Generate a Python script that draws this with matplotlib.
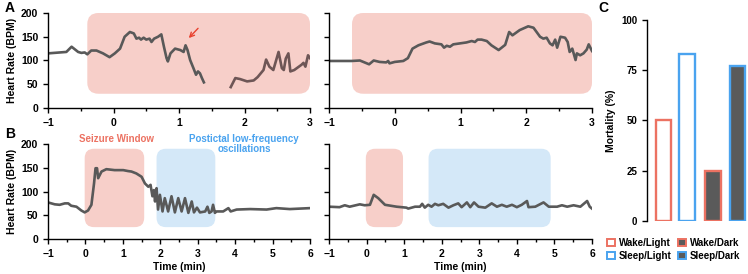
import matplotlib
matplotlib.use("Agg")
import matplotlib.pyplot as plt
from matplotlib.patches import FancyBboxPatch, Patch

plt.rcParams['font.family'] = ['Liberation Sans', 'DejaVu Sans']
plt.rcParams['font.weight'] = 'bold'

# ---------------- data ----------------
a1_t1 = [-1, -0.72, -0.64, -0.54, -0.49, -0.44, -0.4, -0.34, -0.26, -0.16, -0.06, 0.02, 0.10, 0.17, 0.25,
         0.31, 0.35, 0.39, 0.42, 0.46, 0.5, 0.55, 0.58, 0.62, 0.68, 0.73, 0.77, 0.81, 0.83, 0.87, 0.94,
         1.02, 1.07, 1.1, 1.13, 1.17, 1.22, 1.26, 1.29, 1.32, 1.35, 1.38]
a1_v1 = [115, 118, 129, 118, 116, 117, 113, 121, 121, 115, 107, 115, 125, 150, 160,
         157, 146, 148, 144, 148, 144, 146, 139, 146, 150, 155, 129, 105, 98, 115, 125,
         122, 118, 132, 122, 101, 84, 70, 77, 73, 63, 54]
a1_t2 = [1.79, 1.86, 1.93, 2.04, 2.14, 2.2, 2.29, 2.33, 2.38, 2.44, 2.52, 2.57, 2.6, 2.63, 2.67, 2.7,
         2.76, 2.83, 2.87, 2.9, 2.93, 2.97, 3.0]
a1_v2 = [44, 63, 61, 56, 58, 65, 80, 102, 87, 80, 118, 84, 80, 104, 115, 77,
         80, 87, 91, 95, 87, 111, 105]

a2_t = [-1, -0.66, -0.53, -0.46, -0.39, -0.32, -0.23, -0.13, -0.1, -0.08, 0, 0.13, 0.2, 0.27, 0.36,
        0.48, 0.53, 0.61, 0.71, 0.75, 0.79, 0.84, 0.89, 0.99, 1.09, 1.17, 1.22, 1.26, 1.32, 1.4,
        1.47, 1.58, 1.68, 1.74, 1.79, 1.9, 2.03, 2.11, 2.21, 2.26, 2.31, 2.36, 2.4, 2.44, 2.47,
        2.52, 2.59, 2.63, 2.66, 2.7, 2.75, 2.77, 2.82, 2.87, 2.92, 2.95, 3.0]
a2_v = [99, 99, 100, 96, 92, 100, 97, 96, 99, 94, 97, 99, 105, 125, 132,
        138, 140, 136, 134, 127, 131, 129, 134, 136, 138, 141, 139, 144, 144, 141,
        132, 122, 133, 160, 153, 164, 172, 169, 150, 146, 148, 136, 132, 144, 127,
        150, 148, 139, 118, 125, 101, 115, 111, 115, 123, 134, 120]

b1_t = [-1, -0.82, -0.69, -0.55, -0.46, -0.38, -0.24, -0.11, -0.02, 0.07, 0.16, 0.23, 0.27, 0.31, 0.34,
        0.43, 0.56, 0.78, 1.01, 1.14, 1.23, 1.36, 1.5, 1.59, 1.68, 1.74, 1.79, 1.83, 1.86, 1.9,
        1.94, 1.99, 2.06, 2.12, 2.21, 2.3, 2.39, 2.48, 2.57, 2.66, 2.75, 2.84, 2.9, 2.98, 3.06,
        3.2, 3.26, 3.31, 3.37, 3.41, 3.46, 3.5, 3.57, 3.68, 3.82, 3.88, 4.04, 4.4, 4.84, 5.1,
        5.46, 6.0]
b1_v = [77, 73, 72, 75, 75, 70, 68, 60, 56, 60, 72, 117, 149, 149, 128,
        142, 147, 145, 145, 143, 142, 138, 131, 117, 110, 114, 90, 103, 79, 107,
        62, 93, 58, 86, 58, 90, 56, 86, 58, 86, 55, 79, 56, 66, 56,
        58, 68, 55, 58, 72, 55, 58, 58, 58, 65, 58, 62, 63, 62, 65,
        63, 65]

b2_t = [-1, -0.72, -0.58, -0.45, -0.18, -0.05, 0.09, 0.19, 0.31, 0.49, 0.8, 1.06, 1.11, 1.29, 1.42,
        1.48, 1.55, 1.64, 1.73, 1.82, 1.91, 2.04, 2.18, 2.31, 2.44, 2.53, 2.67, 2.76, 2.86, 2.98,
        3.16, 3.33, 3.47, 3.6, 3.73, 3.87, 4.0, 4.13, 4.27, 4.31, 4.49, 4.71, 4.85, 5.07, 5.2,
        5.34, 5.51, 5.69, 5.87, 5.94, 6.0]
b2_v = [68, 67, 71, 68, 73, 71, 72, 93, 86, 72, 68, 66, 64, 68, 68,
        74, 66, 72, 68, 74, 71, 74, 66, 71, 75, 67, 77, 67, 77, 68,
        66, 75, 68, 72, 68, 72, 67, 72, 80, 67, 68, 77, 68, 68, 71,
        68, 71, 68, 80, 68, 64]

c_labels = ['Wake/Light', 'Sleep/Light', 'Wake/Dark', 'Sleep/Dark']
c_values = [50, 83.3, 25, 76.9]

# ---------------- styles ----------------
LINE = '#595959'
LINE2 = '#6e5656'
PINK = '#f7cfc9'
BLUE = '#d4e8f8'
SALMON = '#ec7262'
SKY = '#4aa3ef'
DARK = '#5a5a5a'

W, H = 748, 274
fig = plt.figure(figsize=(W / 100, H / 100), dpi=100)

def px_axes(x0, x1, y0, y1):
    return fig.add_axes([x0 / W, 1 - y1 / H, (x1 - x0) / W, (y1 - y0) / H])

axA1 = px_axes(48, 310, 13, 108)
axA2 = px_axes(329, 592, 13, 108)
axB1 = px_axes(48, 310, 144, 239)
axB2 = px_axes(329, 592, 144, 239)
axC = px_axes(647, 748, 20, 221)

def style(ax, xmax, ylabels=True):
    ax.set_xlim(-1, xmax)
    ax.set_ylim(0, 200)
    ax.set_yticks([0, 50, 100, 150, 200])
    ax.set_xticks(range(-1, xmax + 1))
    ax.set_xticks([i + 0.5 for i in range(-1, xmax)], minor=True)
    for s in ['top', 'right']:
        ax.spines[s].set_visible(False)
    for s in ['left', 'bottom']:
        ax.spines[s].set_linewidth(1.0)
    ax.tick_params(axis='both', which='major', length=3.5, width=1.0, labelsize=7.5, direction='out')
    ax.tick_params(axis='x', which='minor', length=2.5, width=1.0)
    if not ylabels:
        ax.set_yticklabels([])
    for lab in ax.get_xticklabels() + ax.get_yticklabels():
        lab.set_fontweight('bold')

def aspect(ax):
    bb = ax.get_position()
    xr = ax.get_xlim()[1] - ax.get_xlim()[0]
    yr = ax.get_ylim()[1] - ax.get_ylim()[0]
    return (yr / (bb.height * H)) / (xr / (bb.width * W))

def rbox(ax, x0, x1, y0, y1, color, rx):
    ax.add_patch(FancyBboxPatch((x0, y0), x1 - x0, y1 - y0,
                                boxstyle='round,pad=0,rounding_size=%f' % rx,
                                mutation_aspect=aspect(ax),
                                facecolor=color, edgecolor='none', zorder=0))

style(axA1, 3)
style(axA2, 3, ylabels=False)
style(axB1, 6)
style(axB2, 6, ylabels=False)

# shaded windows
rbox(axA1, -0.4, 3.0, 30, 200, PINK, 0.17)
rbox(axA2, -0.65, 3.0, 30, 200, PINK, 0.17)
rbox(axB1, -0.02, 1.57, 25, 190, PINK, 0.25)
rbox(axB1, 1.9, 3.47, 25, 190, BLUE, 0.25)
rbox(axB2, -0.02, 0.97, 25, 190, PINK, 0.25)
rbox(axB2, 1.65, 4.9, 25, 190, BLUE, 0.25)

lw = 1.9
axA1.plot(a1_t1, a1_v1, color=LINE, lw=lw, solid_joinstyle='round', zorder=2)
axA1.plot(a1_t2, a1_v2, color=LINE2, lw=lw, solid_joinstyle='round', zorder=2)
axA2.plot(a2_t, a2_v, color=LINE, lw=lw, solid_joinstyle='round', zorder=2)
axB1.plot(b1_t, b1_v, color=LINE, lw=lw, solid_joinstyle='round', zorder=2)
axB2.plot(b2_t, b2_v, color=LINE, lw=lw, solid_joinstyle='round', zorder=2)

axA1.annotate('', xy=(1.12, 143), xytext=(1.32, 172),
              arrowprops=dict(arrowstyle='->', color='#e8422f', lw=1.0, mutation_scale=8))

axA1.set_ylabel('Heart Rate (BPM)', fontsize=7.5, fontweight='bold', labelpad=3)
axB1.set_ylabel('Heart Rate (BPM)', fontsize=7.5, fontweight='bold', labelpad=3)
axB1.set_xlabel('Time (min)', fontsize=7.5, fontweight='bold', labelpad=2)
axB2.set_xlabel('Time (min)', fontsize=7.5, fontweight='bold', labelpad=2)

axB1.text(0.84, 210, 'Seizure Window', color=SALMON, fontsize=7, fontweight='bold',
          ha='center', va='center', clip_on=False)
axB1.text(4.24, 200, 'Postictal low-frequency\noscillations', color=SKY, fontsize=7,
          fontweight='bold', ha='center', va='center', linespacing=1.1, clip_on=False)

# panel C
xs = [0, 0.95, 2.0, 3.0]
edges = [SALMON, SKY, SALMON, SKY]
faces = ['white', 'white', DARK, DARK]
axC.bar(xs, c_values, width=0.62, color=faces, edgecolor=edges, linewidth=1.7)
axC.set_xlim(-0.66, 3.42)
axC.set_ylim(0, 100)
axC.set_yticks([0, 25, 50, 75, 100])
axC.set_xticks([])
for s in ['top', 'right', 'bottom']:
    axC.spines[s].set_visible(False)
axC.spines['left'].set_linewidth(1.0)
axC.tick_params(axis='y', length=3.5, width=1.0, labelsize=7)
for lab in axC.get_yticklabels():
    lab.set_fontweight('bold')
axC.set_ylabel('Mortality (%)', fontsize=7.5, fontweight='bold', labelpad=4)

handles = [Patch(facecolor=f, edgecolor=e, linewidth=1.4, label=l)
           for f, e, l in zip(faces, edges, c_labels)]
fig.legend(handles=handles, labels=c_labels, ncol=2, loc='center left',
           bbox_to_anchor=(607 / W, 1 - 249.5 / H), frameon=False,
           handlelength=0.8, handleheight=0.8, handletextpad=0.45,
           columnspacing=0.6, labelspacing=0.3, borderpad=0, borderaxespad=0,
           prop={'weight': 'bold', 'size': 7})

fig.text(5 / W, 1 - 8 / H, 'A', fontsize=10, fontweight='bold', va='center', ha='left')
fig.text(5 / W, 1 - 134 / H, 'B', fontsize=10, fontweight='bold', va='center', ha='left')
fig.text(598 / W, 1 - 8 / H, 'C', fontsize=10, fontweight='bold', va='center', ha='left')

fig.savefig('out.png', dpi=100)
